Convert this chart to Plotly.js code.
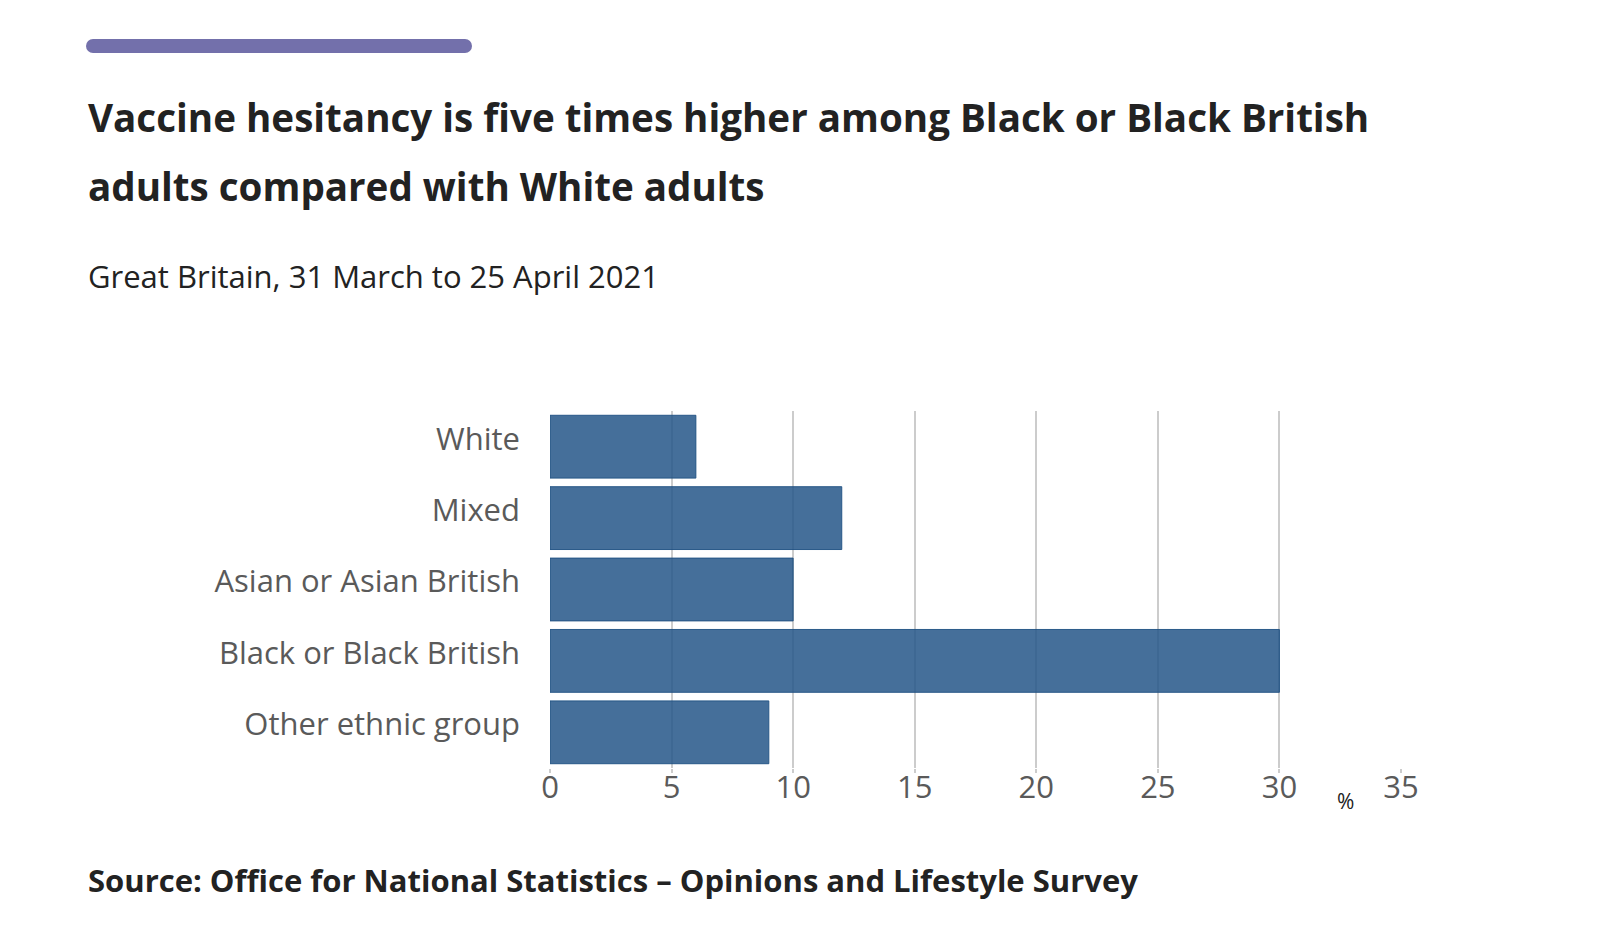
<!DOCTYPE html>
<html>
<head>
<meta charset="utf-8">
<script src="https://cdn.plot.ly/plotly-3.0.1.min.js"></script>
<style>
  html, body { margin: 0; padding: 0; background: #fff; }
  #wrap { position: relative; width: 1600px; height: 938px; }
  #accent { position: absolute; left: 86px; top: 39px; width: 386px; height: 14px; border-radius: 7px; background: #7370ab; z-index: 2; }
  #chart { position: absolute; left: 0; top: 0; width: 1600px; height: 938px; }
</style>
</head>
<body>
<div id="wrap">
  <div id="chart"></div>
  <div id="accent"></div>
</div>
<script>
const categories = ["White", "Mixed", "Asian or Asian British", "Black or Black British", "Other ethnic group"];
const hesitancy = [6, 12, 10, 30, 9];
const xTicks = [0, 5, 10, 15, 20, 25, 30, 35];

const titleLine1 = "Vaccine hesitancy is five times higher among Black or Black British";
const titleLine2 = "adults compared with White adults";
const subtitle = "Great Britain, 31 March to 25 April 2021";
const source = "Source: Office for National Statistics \u2013 Opinions and Lifestyle Survey";
const unitLabel = "%";

const L = 550, R = 1401, T = 411, B = 768, W = 1600, H = 938;
const px = x => (x - L) / (R - L);
const py = y => (B - y) / (B - T);
const font = "'Open Sans', 'Noto Sans', sans-serif";

const trace = {
  type: "bar",
  orientation: "h",
  y: categories,
  x: hesitancy,
  marker: { color: "rgba(36,86,136,0.85)", line: { color: "rgba(30,80,130,0.9)", width: 1 } },
  hoverinfo: "x+y"
};

const layout = {
  width: W, height: H,
  margin: { l: L, r: W - R, t: T, b: H - B, pad: 0 },
  paper_bgcolor: "#ffffff",
  plot_bgcolor: "#ffffff",
  showlegend: false,
  bargap: 0.12,
  font: { family: font, color: "#222" },
  xaxis: {
    range: [0, 35],
    tickvals: xTicks,
    ticktext: xTicks.map(String),
    showgrid: true,
    gridcolor: "#cccccc",
    gridwidth: 1.5,
    zeroline: false,
    showline: false,
    ticks: "outside",
    ticklen: 4,
    tickcolor: "#cccccc",
    tickwidth: 1.5,
    ticklabelstandoff: -12,
    tickfont: { family: font, size: 31, color: "#5a5a5a" },
    fixedrange: true
  },
  yaxis: {
    type: "category",
    autorange: "reversed",
    showgrid: false,
    zeroline: false,
    showline: false,
    ticks: "",
    ticklabelstandoff: 29,
    ticklabelshift: 8,
    tickfont: { family: font, size: 31, color: "#5a5a5a" },
    fixedrange: true
  },
  annotations: [
    { text: titleLine1, xref: "paper", yref: "paper", x: px(86), y: py(117), xanchor: "left", yanchor: "middle", showarrow: false, font: { family: font, size: 38.6, color: "#222", weight: 700 } },
    { text: titleLine2, xref: "paper", yref: "paper", x: px(86), y: py(186), xanchor: "left", yanchor: "middle", showarrow: false, font: { family: font, size: 38.6, color: "#222", weight: 700 } },
    { text: subtitle, xref: "paper", yref: "paper", x: px(86), y: py(276), xanchor: "left", yanchor: "middle", showarrow: false, font: { family: font, size: 31, color: "#222" } },
    { text: unitLabel, xref: "paper", yref: "paper", x: px(1345), y: py(801), xanchor: "center", yanchor: "middle", showarrow: false, font: { family: font, size: 21, color: "#222" } },
    { text: source, xref: "paper", yref: "paper", x: px(86), y: py(880), xanchor: "left", yanchor: "middle", showarrow: false, font: { family: font, size: 31, color: "#222", weight: 700 } }
  ]
};

Plotly.newPlot("chart", [trace], layout, { displayModeBar: false });
</script>
</body>
</html>
